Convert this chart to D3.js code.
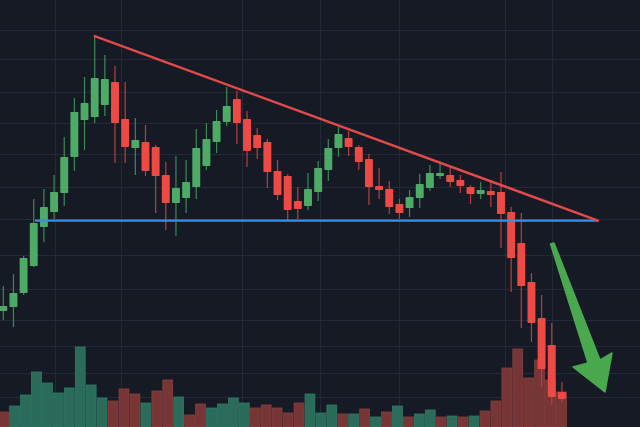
<!DOCTYPE html>
<html>
<head>
<meta charset="utf-8">
<script src="https://cdnjs.cloudflare.com/ajax/libs/d3/7.8.5/d3.min.js"></script>
<style>
  html, body { margin: 0; padding: 0; background: #161a25; overflow: hidden; }
  svg { display: block; }
</style>
</head>
<body>
<div id="chart"></div>
<script>
var svgWidth = 640;
var svgHeight = 427;

// ================= data =============
// candle prices (open, high, low, close), one entry per bar
var opens  = [41.87, 42.13, 43.03, 44.77, 47.29, 48.26, 49.48, 51.81, 54.19, 54.39, 55.16, 56.65, 54.26, 52.39,
              52.77, 52.45, 50.65, 48.84, 49.16, 49.87, 51.23, 52.77, 54.06, 55.55, 54.26, 53.23, 52.77, 50.90,
              50.58, 48.97, 48.65, 49.55, 50.97, 52.39, 53.03, 52.45, 51.68, 49.94, 49.74, 48.77, 48.52, 49.16,
              49.81, 50.58, 50.65, 50.32, 49.87, 49.42, 49.61, 49.55, 48.26, 46.26, 43.74, 41.42, 39.68, 36.65];
var highs  = [43.48, 44.26, 45.42, 49.10, 49.74, 50.65, 53.10, 55.61, 56.97, 59.61, 58.39, 57.68, 56.65, 54.32,
              53.87, 52.58, 51.48, 51.87, 51.61, 53.61, 54.00, 54.84, 56.32, 56.06, 54.77, 53.68, 52.97, 51.61,
              50.71, 49.87, 50.77, 51.55, 52.97, 53.74, 53.48, 52.58, 52.00, 51.10, 50.26, 49.10, 49.68, 50.71,
              51.29, 51.48, 51.16, 50.65, 50.00, 50.19, 50.32, 50.84, 48.58, 48.19, 44.32, 42.90, 41.10, 37.29];
var lows   = [41.29, 40.84, 42.90, 44.71, 46.32, 47.81, 48.65, 50.90, 52.26, 54.00, 54.45, 51.42, 51.42, 50.65,
              50.58, 48.19, 47.10, 46.71, 48.19, 49.10, 50.97, 52.06, 53.81, 52.65, 51.16, 51.68, 49.81, 49.03,
              47.74, 47.81, 48.39, 48.97, 50.26, 51.81, 51.87, 50.97, 48.71, 49.10, 48.13, 47.81, 47.94, 48.52,
              49.61, 50.39, 49.87, 49.48, 48.77, 49.10, 48.58, 45.94, 43.10, 40.77, 39.87, 36.97, 35.81, 36.00];
var closes = [42.19, 43.03, 45.29, 47.55, 48.58, 49.55, 51.81, 54.71, 55.29, 56.90, 56.84, 54.00, 52.45, 52.90,
              50.90, 50.58, 48.84, 49.81, 50.19, 52.39, 52.97, 54.13, 55.10, 54.00, 52.19, 52.39, 50.84, 49.35,
              48.39, 48.45, 49.74, 51.10, 52.39, 53.29, 52.45, 51.48, 49.87, 49.68, 48.58, 48.19, 49.23, 50.06,
              50.77, 50.77, 50.19, 49.94, 49.42, 49.68, 49.35, 48.13, 45.29, 43.48, 41.10, 38.13, 36.32, 36.19];

// volume pane (its own bar count in the picture)
var volumes = [15, 21, 32, 55, 44, 34, 39, 80, 42, 29, 26, 38, 33, 24, 36, 47, 30, 12, 23, 19, 23, 29, 24, 19, 22, 19,
               14, 24, 33, 14, 22, 13, 13, 18, 10, 15, 21, 10, 13, 17, 10, 11, 10, 11, 16, 26, 59, 78, 49, 67, 47, 35];
var volumeUp = [0, 1, 1, 1, 1, 1, 1, 1, 1, 1, 0, 0, 0, 1, 0, 0, 1, 0, 0, 1, 1, 1, 1, 0, 0, 0,
                0, 0, 1, 1, 1, 0, 1, 0, 1, 0, 1, 0, 1, 1, 0, 1, 0, 1, 0, 0, 0, 0, 0, 0, 0, 0];

// descending triangle: resistance and support, as [bar slot, price]
var resistanceLine = [[9.5, 59.61], [59.05, 47.70]];
var supportLine = [[3.62, 47.70], [59.05, 47.70]];

// arrow outline, as [bar slot, price]
var arrowShape = [[54.38, 46.19], [54.72, 46.26], [59.25, 38.71], [60.43, 39.16],
                  [59.74, 36.65], [56.59, 38.26], [58.07, 38.52]];

// grid lines
var gridPrices = [60, 58.1, 56, 54, 52, 49.9, 47.8, 45.5, 43.3, 41.3, 39.6, 37.9, 36.3];
var gridSlots = [5.6, 12.1, 24.0, 31.7, 39.5, 49.9, 54.5];

var candles = opens.map(function(o, i) {
  return { i: i, open: o, high: highs[i], low: lows[i], close: closes[i] };
});

// ================= scales =============
var xSlot = d3.scaleLinear()
  .domain([0, candles.length])
  .range([-1.8, 567]);

var x = d3.scaleBand()
  .domain(d3.range(candles.length))
  .range([-1.8, 567])
  .paddingInner(0.22)
  .paddingOuter(0.11);

var xVol = d3.scaleBand()
  .domain(d3.range(volumes.length))
  .range([-1.8, 567])
  .paddingInner(0.1)
  .paddingOuter(0.05);

var y = d3.scaleLinear()
  .domain([34, 62])
  .range([433, -1]);

var yVol = d3.scaleLinear()
  .domain([0, 100])
  .range([427, 327]);

var svg = d3.select("#chart")
  .append("svg")
  .attr("width", svgWidth)
  .attr("height", svgHeight);

svg.append("rect")
  .attr("width", svgWidth)
  .attr("height", svgHeight)
  .attr("fill", "#161a25");

// ================= grid =============
var grid = svg.append("g").attr("stroke", "#242938").attr("stroke-width", 1);

grid.selectAll("line.h")
  .data(gridPrices)
  .enter()
  .append("line")
  .attr("class", "h")
  .attr("x1", 0)
  .attr("x2", svgWidth)
  .attr("y1", d => Math.round(y(d)) + 0.5)
  .attr("y2", d => Math.round(y(d)) + 0.5);

grid.selectAll("line.v")
  .data(gridSlots)
  .enter()
  .append("line")
  .attr("class", "v")
  .attr("y1", 0)
  .attr("y2", svgHeight)
  .attr("x1", d => Math.round(xSlot(d)) + 0.5)
  .attr("x2", d => Math.round(xSlot(d)) + 0.5);

// ================= volume bars =============
svg.append("g")
  .selectAll("rect")
  .data(volumes)
  .enter()
  .append("rect")
  .attr("x", (d, i) => xVol(i))
  .attr("width", xVol.bandwidth())
  .attr("y", d => yVol(d))
  .attr("height", d => yVol(0) - yVol(d))
  .attr("fill", (d, i) => volumeUp[i] ? "#2a6b5a" : "#773535")
  .attr("stroke", (d, i) => volumeUp[i] ? "#317a66" : "#874040")
  .attr("stroke-width", 0.8);

// ================= candles =============
var candleGroup = svg.append("g");

candleGroup.selectAll("line")
  .data(candles)
  .enter()
  .append("line")
  .attr("x1", d => x(d.i) + x.bandwidth() / 2)
  .attr("x2", d => x(d.i) + x.bandwidth() / 2)
  .attr("y1", d => y(d.high))
  .attr("y2", d => y(d.low))
  .attr("stroke", d => d.close >= d.open ? "#3b8a55" : "#b8403c")
  .attr("stroke-width", 1.2);

candleGroup.selectAll("rect")
  .data(candles)
  .enter()
  .append("rect")
  .attr("x", d => x(d.i))
  .attr("width", x.bandwidth())
  .attr("y", d => y(Math.max(d.open, d.close)))
  .attr("height", d => Math.max(2, Math.abs(y(d.open) - y(d.close))))
  .attr("rx", 0.8)
  .attr("fill", d => d.close >= d.open ? "#4dab66" : "#ee4a45");

// ================= triangle lines =============
var line = d3.line()
  .x(d => xSlot(d[0]))
  .y(d => y(d[1]));

svg.append("path")
  .attr("d", line(supportLine))
  .attr("fill", "none")
  .attr("stroke", "#3b8fe3")
  .attr("stroke-width", 2.4);

svg.append("path")
  .attr("d", line(resistanceLine))
  .attr("fill", "none")
  .attr("stroke", "#e24a4a")
  .attr("stroke-width", 2.4)
  .attr("stroke-linecap", "round");

// ================= breakdown arrow =============
svg.append("path")
  .attr("d", line.curve(d3.curveLinearClosed)(arrowShape))
  .attr("fill", "#4aa94f")
  .attr("stroke", "#4aa94f")
  .attr("stroke-width", 1.5)
  .attr("stroke-linejoin", "round");
</script>
</body>
</html>
